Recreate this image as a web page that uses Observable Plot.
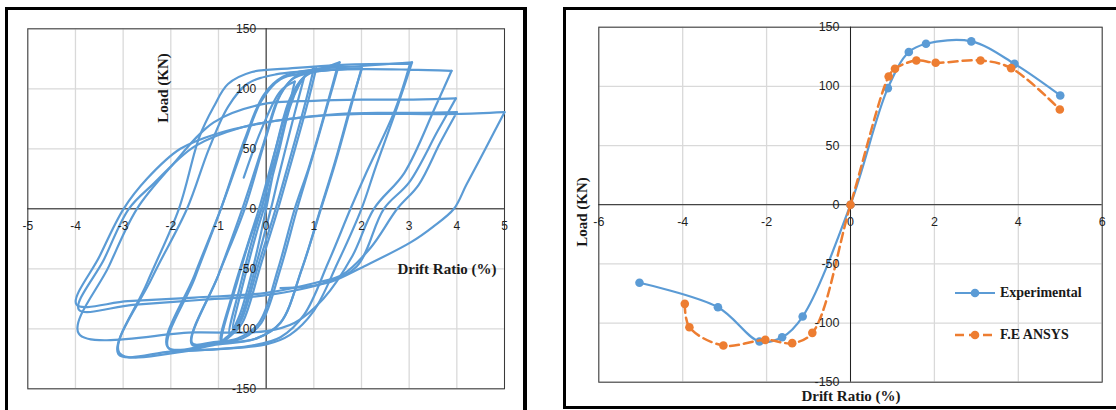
<!DOCTYPE html>
<html><head><meta charset="utf-8">
<script src="https://cdn.jsdelivr.net/npm/d3@7"></script>
<script src="https://cdn.jsdelivr.net/npm/@observablehq/plot@0.6"></script>
<style>
html,body{margin:0;padding:0;background:#fff;}
body{width:1116px;height:410px;overflow:hidden;position:relative;}
.panel{position:absolute;box-sizing:border-box;border:3px solid #000;pointer-events:none;}
.wrap{position:absolute;top:0;}
.ttl{position:absolute;font:bold 15px "Liberation Serif","Times New Roman",serif;color:#1a1a1a;white-space:nowrap;transform:translate(-50%,-50%);line-height:1;}
.rot{transform:translate(-50%,-50%) rotate(-90deg);}
.leg{position:absolute;font:bold 14px "Liberation Serif","Times New Roman",serif;color:#1a1a1a;white-space:nowrap;display:flex;align-items:center;}
</style></head><body>
<div id="left" class="wrap" style="left:0px"></div>
<div id="right" class="wrap" style="left:545px"></div>
<div class="panel" style="left:5px;top:7px;width:522px;height:430px;border-right-width:4px"></div>
<div class="panel" style="left:563px;top:7px;width:560px;height:402px"></div>
<div class="ttl rot" style="left:163px;top:88px">Load (KN)</div>
<div class="ttl" style="left:447px;top:269px">Drift Ratio (%)</div>
<div class="ttl rot" style="left:582px;top:212px">Load (KN)</div>
<div class="ttl" style="left:851px;top:396px">Drift Ratio (%)</div>
<div id="legend"></div>
<script>
// ---------- Left panel: hysteresis loops (drift %, load kN) ----------
const leftXTicks = [-5,-4,-3,-2,-1,0,1,2,3,4,5];
const leftYTicks = [-150,-100,-50,0,50,100,150];
const loopStart = [[-0.47,26],[-0.1,66],[0.3,98],[0.6,106]];
const loop1 = [[0.6,106],[0.45,80],[0.15,30],[0.0,0],[-0.25,-45],[-0.55,-88],[-0.7,-100],[-0.5,-65],[-0.2,-20],[-0.05,0],[0.25,45],[0.5,85],[0.7,104],[0.8,110]];
const loop2 = [[0.8,110],[0.6,80],[0.25,25],[0.1,0],[-0.2,-45],[-0.55,-92],[-0.77,-104],[-0.55,-65],[-0.25,-20],[-0.1,0],[0.25,50],[0.55,92],[0.8,110],[1.0,117]];
const loop3 = [[1.0,117],[0.8,85],[0.45,35],[0.2,0],[-0.15,-45],[-0.55,-95],[-0.8,-106],[-0.95,-110],[-0.7,-70],[-0.35,-25],[-0.15,0],[0.2,50],[0.5,90],[0.75,108],[1.05,117]];
const loop4 = [[1.05,117],[0.85,85],[0.5,35],[0.25,0],[-0.1,-45],[-0.5,-95],[-0.75,-106],[-0.92,-110],[-0.6,-60],[-0.3,-20],[-0.1,0],[0.2,50],[0.5,92],[0.8,110],[1.2,117],[1.54,122]];
const loop5 = [[1.54,122],[1.35,95],[0.95,40],[0.65,0],[0.3,-50],[-0.1,-95],[-0.5,-108],[-1.0,-111],[-1.56,-113],[-1.0,-55],[-0.45,0],[0.0,60],[0.3,95],[0.6,110],[1.0,116],[1.5,119]];
const loop6 = [[1.5,119],[1.3,90],[0.9,35],[0.6,0],[0.25,-50],[-0.15,-95],[-0.6,-108],[-1.1,-111],[-1.55,-112],[-1.0,-55],[-0.5,0],[-0.05,55],[0.25,92],[0.55,108],[1.0,114],[1.5,116],[2.01,117]];
const loop7 = [[2.01,117],[1.8,90],[1.45,40],[1.14,0],[0.75,-50],[0.3,-95],[-0.2,-108],[-1.0,-112],[-2.07,-115],[-1.5,-55],[-0.95,0],[-0.45,55],[-0.1,90],[0.3,108],[0.8,113],[1.4,116],[2.0,117]];
const loop8 = [[2.0,117],[1.8,88],[1.45,38],[1.15,0],[0.75,-50],[0.3,-95],[-0.2,-108],[-1.0,-113],[-2.05,-116],[-1.5,-58],[-0.95,0],[-0.45,58],[-0.05,95],[0.35,110],[1.0,116],[2.0,119],[3.06,122]];
const loop9 = [[3.06,122],[2.75,85],[2.3,35],[2.0,0],[1.5,-45],[1.0,-85],[0.5,-105],[0,-113],[-1.0,-117],[-2.0,-119],[-3.1,-121],[-2.5,-62],[-1.83,0],[-1.4,60],[-1.1,85],[-0.8,104],[-0.3,114],[0.5,117],[1.6,120],[3.02,121]];
const loop10 = [[3.02,121],[2.7,82],[2.1,30],[1.77,0],[1.3,-45],[0.8,-88],[0.3,-107],[-0.3,-114],[-1.5,-118],[-3.08,-120],[-2.4,-58],[-1.66,0],[-1.2,50],[-0.8,85],[-0.4,104],[0.2,112],[1.5,116],[3.0,116],[3.89,115]];
const loop11 = [[3.89,115],[3.55,85],[2.9,30],[2.26,0],[1.8,-40],[1.2,-75],[0.6,-95],[0,-102],[-1.5,-103],[-3.93,-104],[-3.3,-48],[-2.71,0],[-2.0,35],[-1.1,72],[-0.1,87],[1.0,90],[2.0,91],[3.0,91],[3.98,92]];
const loop12 = [[3.98,92],[3.6,65],[3.0,22],[2.47,0],[1.9,-48],[1.2,-62],[0.0,-72],[-1.4,-76],[-2.8,-80],[-3.93,-84],[-3.4,-42],[-2.88,0],[-2.36,21],[-1.5,52],[-0.5,68],[0.5,75],[1.5,79],[2.5,80],[3.3,80],[4.0,80.5]];
const loop13 = [[4.0,80.5],[3.65,55],[3.2,20],[2.75,0],[2.2,-32],[1.6,-55],[1.0,-62],[0,-70],[-1.5,-74],[-2.9,-77],[-3.98,-79.7],[-3.5,-40],[-2.99,0],[-2.5,25],[-1.8,50],[-1.0,63],[0,72],[1.0,77],[2.0,79],[3.0,79],[4.0,79],[5.0,80.5]];
const loop14 = [[5.0,80.5],[4.6,50],[4.2,20],[3.94,0],[3.5,-15],[3.03,-28],[2.05,-48],[1.35,-61],[0.8,-65],[0.3,-66]];

// ---------- Right panel: envelope curves ----------
const rightXTicks = [-6,-4,-2,0,2,4,6];
const rightYTicks = [-150,-100,-50,0,50,100,150];
const expDrift = [-5.03,-3.16,-2.17,-1.63,-1.14,0,0.89,1.39,1.80,2.88,3.91,5.0];
const expLoad  = [-66,-86.6,-115.6,-112,-94.5,0,98.5,129,136,138,119,92.3];
const feDrift  = [-3.95,-3.84,-3.03,-2.03,-1.39,-0.91,0,0.91,1.06,1.57,2.03,3.10,3.83,4.99];
const feLoad   = [-83.8,-103.5,-119,-114.2,-117,-108.3,0,108.4,114.9,121.9,119.9,121.9,115.4,80.5];

const blue = "#5B9BD5", orange = "#ED7D31";
const grid = "#d9d9d9", tickFont = "'Liberation Sans', Arial, sans-serif", tickColor = "#1f1f1f";

const loops = [loopStart,loop1,loop2,loop3,loop4,loop5,loop6,loop7,loop8,loop9,loop10,loop11,loop12,loop13,loop14];
const hyst = loops.flatMap((lp,i) => lp.map(([d,f]) => ({c:i, d, f})));

const left = Plot.plot({
  width: 545, height: 410,
  marginLeft: 27.3, marginRight: 41, marginTop: 28.3, marginBottom: 21.7,
  style: {background: "transparent"},
  x: {domain: [-5,5], axis: null},
  y: {domain: [-150,150], axis: null},
  marks: [
    Plot.ruleX(leftXTicks, {stroke: grid, strokeWidth: 1.3}),
    Plot.ruleY(leftYTicks, {stroke: grid, strokeWidth: 1.3}),
    Plot.frame({stroke: "#3a3a3a", strokeWidth: 1}),
    Plot.ruleX([0], {stroke: "#222", strokeWidth: 1}),
    Plot.ruleY([0], {stroke: "#222", strokeWidth: 1}),
    Plot.line(hyst, {x: "d", y: "f", z: "c", curve: "catmull-rom", stroke: blue, strokeWidth: 2.2, strokeLinejoin: "round"}),
    Plot.text(leftXTicks, {x: d => d, y: () => 0, text: d => String(d), dy: 17, fill: tickColor, fontSize: 12, fontFamily: tickFont}),
    Plot.text(leftYTicks, {x: () => 0, y: d => d, text: d => String(d), dx: -10, textAnchor: "end", fill: tickColor, fontSize: 12, fontFamily: tickFont})
  ]
});
document.getElementById("left").append(left);

const expRows = expDrift.map((d,i) => ({d, f: expLoad[i]}));
const feRows = feDrift.map((d,i) => ({d, f: feLoad[i]}));

const right = Plot.plot({
  width: 571, height: 410,
  marginLeft: 53.3, marginRight: 14.3, marginTop: 26.7, marginBottom: 28.3,
  style: {background: "transparent"},
  x: {domain: [-6,6], axis: null},
  y: {domain: [-150,150], axis: null},
  marks: [
    Plot.ruleX(rightXTicks, {stroke: grid, strokeWidth: 1.3}),
    Plot.ruleY(rightYTicks, {stroke: grid, strokeWidth: 1.3}),
    Plot.frame({stroke: "#3a3a3a", strokeWidth: 1}),
    Plot.ruleX([0], {stroke: "#222", strokeWidth: 1}),
    Plot.ruleY([0], {stroke: "#222", strokeWidth: 1}),
    Plot.line(expRows, {x: "d", y: "f", curve: "catmull-rom", stroke: blue, strokeWidth: 2.2}),
    Plot.dot(expRows, {x: "d", y: "f", r: 4.3, fill: blue}),
    Plot.line(feRows, {x: "d", y: "f", curve: "catmull-rom", stroke: orange, strokeWidth: 2.5, strokeDasharray: "9,5"}),
    Plot.dot(feRows, {x: "d", y: "f", r: 4.3, fill: orange}),
    Plot.text(rightXTicks, {x: d => d, y: () => 0, text: d => String(d), dy: 17.5, fill: tickColor, fontSize: 12.5, fontFamily: tickFont}),
    Plot.text(rightYTicks, {x: () => 0, y: d => d, text: d => String(d), dx: -11, textAnchor: "end", fill: tickColor, fontSize: 12.5, fontFamily: tickFont})
  ]
});
document.getElementById("right").append(right);

// legend
const legendItems = [
  {label: "Experimental", color: blue, dash: null, top: 293},
  {label: "F.E ANSYS", color: orange, dash: "9,5", top: 335}
];
const lg = document.getElementById("legend");
for (const it of legendItems) {
  const div = document.createElement("div");
  div.className = "leg";
  div.style.left = "955px";
  div.style.top = (it.top - 10) + "px";
  div.style.height = "20px";
  div.innerHTML = `<svg width="42" height="20" style="margin-right:3px"><line x1="0" y1="10" x2="40" y2="10" stroke="${it.color}" stroke-width="${it.dash ? 2.5 : 2.2}" ${it.dash ? `stroke-dasharray="${it.dash}"` : ""}/><circle cx="20" cy="10" r="4.3" fill="${it.color}"/></svg><span>${it.label}</span>`;
  lg.append(div);
}
</script>
</body></html>
